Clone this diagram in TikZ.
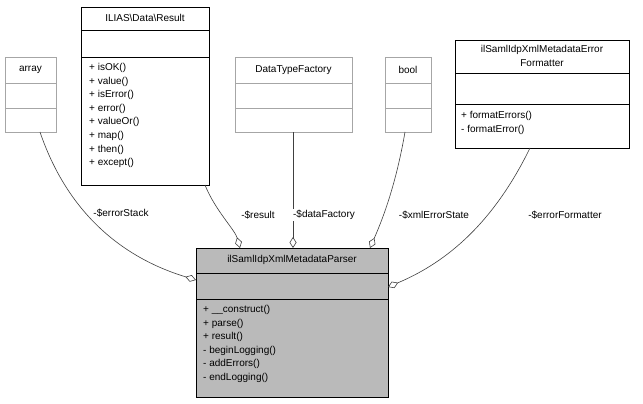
\documentclass[tikz,border=0pt]{standalone}
\usepackage{fontspec}
\setmainfont{Liberation Sans}
\usetikzlibrary{arrows.meta}
\begin{document}
\begin{tikzpicture}[x=1pt,y=-1pt,
  txt/.style={font=\fontsize{10}{12}\selectfont,inner sep=0pt},
  agg/.style={draw=black!75,line width=0.6pt,-{Diamond[open,length=11pt,width=7pt]}},
  lbl/.style={txt,fill=white,inner sep=1pt}]
\useasboundingbox (0,0) rectangle (643,404);
% array
\draw[black!35,fill=white] (5,57) rectangle (56,132);
\draw[black!35] (5,83)--(56,83) (5,108)--(56,108);
\node[txt] (arr) at (30.5,70) {array};
\coordinate (arrb) at (40,132);
% Result
\draw[black,fill=white] (81,7) rectangle (209,185);
\draw (81,30)--(209,30) (81,57)--(209,57);
\node[txt] (res) at (145,18) {ILIAS\textbackslash Data\textbackslash Result};
\node[txt,align=left,anchor=north west,font=\fontsize{10}{13.6}\selectfont] (resm) at (89,63) {+ isOK()\\+ value()\\+ isError()\\+ error()\\+ valueOr()\\+ map()\\+ then()\\+ except()};
\coordinate (resb) at (205,185);
% DataTypeFactory
\draw[black!35,fill=white] (235,57) rectangle (352,132);
\draw[black!35] (235,83)--(352,83) (235,108)--(352,108);
\node[txt] (dtf) at (293.5,70) {DataTypeFactory};
\coordinate (dtfb) at (293,132);
% bool
\draw[black!35,fill=white] (385,57) rectangle (431,132);
\draw[black!35] (385,83)--(431,83) (385,108)--(431,108);
\node[txt] (bool) at (408,70) {bool};
\coordinate (boolb) at (405,132);
% Error formatter
\draw[black,fill=white] (455,40) rectangle (629,148);
\draw (455,73)--(629,73) (455,104)--(629,104);
\node[txt,align=center,font=\fontsize{10}{14}\selectfont] (ef) at (542,56) {ilSamlIdpXmlMetadataError\\Formatter};
\node[txt,align=left,anchor=north west,font=\fontsize{10}{13.6}\selectfont] (efm) at (461,111) {+ formatErrors()\\- formatError()};
\coordinate (efb) at (530,148);
% main
\draw[black,fill=black!27] (196,248) rectangle (388,397);
\draw (196,273)--(388,273) (196,299)--(388,299);
\node[txt] (main) at (292,260) {ilSamlIdpXmlMetadataParser};
\node[txt,align=left,anchor=north west,font=\fontsize{10}{13.6}\selectfont] (mainm) at (203,305) {+ \_\_construct()\\+ parse()\\+ result()\\- beginLogging()\\- addErrors()\\- endLogging()};
\coordinate (mL) at (196,280);
\coordinate (mR) at (388,287);
\coordinate (mT1) at (240,248);
\coordinate (mT2) at (293,248);
\coordinate (mT3) at (370,248);
% connectors
\draw[agg] (arrb) .. controls (70,220) and (130,260) .. (mL);
\draw[agg] (resb) .. controls (215,210) and (235,230) .. (mT1);
\draw[agg] (dtfb) -- (mT2);
\draw[agg] (boolb) .. controls (395,190) and (380,225) .. (mT3);
\draw[agg] (efb) .. controls (490,230) and (440,265) .. (mR);
\node[lbl] (l1) at (121,213) {-\$errorStack};
\node[lbl] (l2) at (258,215) {-\$result};
\node[lbl] (l3) at (324,215) {-\$dataFactory};
\node[lbl] (l4) at (434,215) {-\$xmlErrorState};
\node[lbl] (l5) at (565,215) {-\$errorFormatter};
\end{tikzpicture}
\end{document}
